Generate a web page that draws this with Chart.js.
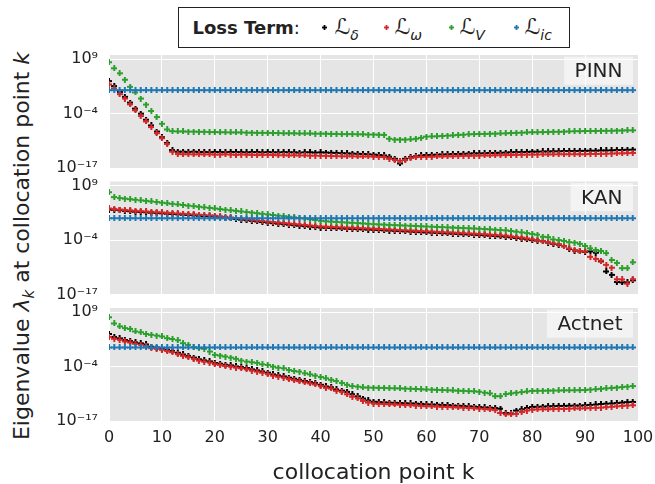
<!DOCTYPE html>
<html>
<head>
<meta charset="utf-8">
<script src="https://cdn.jsdelivr.net/npm/chart.js@4.4.1/dist/chart.umd.min.js"></script>
<style>
  html, body { margin: 0; padding: 0; background: #fff; }
  body { width: 655px; height: 484px; position: relative; overflow: hidden;
         font-family: 'DejaVu Sans', sans-serif; color: #222; }
  canvas.panel { position: absolute; left: 0; }
  #legend { position: absolute; left: 178px; top: 7px; width: 392px; height: 41px;
            box-sizing: border-box; border: 1.5px solid #222; background: #fff; }
  #legend .li { position: absolute; top: 0; height: 38px; line-height: 38px;
                font-size: 22px; white-space: nowrap; }
  #legend .li sub { font-size: 14px; font-style: italic; vertical-align: -6px; }
  #legend canvas { position: absolute; }
  #ytitle { position: absolute; left: 25px; top: 246px; font-size: 22px; line-height: 26px;
            white-space: nowrap; transform: translate(-50%, -50%) rotate(-90deg); }
  #ytitle sub { font-size: 15px; vertical-align: -5px; font-style: italic; }
</style>
</head>
<body>
<div id="legend">
  <span class="li" style="left:13.5px"><span style="font-size:18px"><b>Loss Term</b>:</span></span>
  <span class="li" style="left:155.5px">ℒ<sub>δ</sub></span>
  <span class="li" style="left:215.5px">ℒ<sub>ω</sub></span>
  <span class="li" style="left:280.5px">ℒ<sub>V</sub></span>
  <span class="li" style="left:345.5px">ℒ<sub>ic</sub></span>
</div>
<div id="ytitle">Eigenvalue <i>λ</i><sub>k</sub> at collocation point <i>k</i></div>
<canvas id="pinn" class="panel" width="655" height="137" style="top:43px"></canvas>
<canvas id="kan" class="panel" width="655" height="138" style="top:169px"></canvas>
<canvas id="actnet" class="panel" width="655" height="188" style="top:296px"></canvas>
<script>
// collocation points k = 0..99
const points = [...Array(100).keys()];

const yTickValues = [1e-17, 1e-4, 1e9];
const yTickLabels = ['10⁻¹⁷', '10⁻⁴', '10⁹'];

const termNames = ['δ', 'ω', 'V', 'ic'];
const termColors = ['#000000', '#d62728', '#2ca02c', '#1f77b4'];

// all series are log10(eigenvalue)

// ---- PINN ----
const pinnDelta = [
  3.77, 2.57, 1.2, 0.0, -1.37, -2.81, -4.02, -5.47, -6.83, -8.28,
  -9.64, -11.0, -12.7, -13.1, -13.1, -13.15, -13.1, -13.15, -13.15, -13.2,
  -13.15, -13.2, -13.2, -13.15, -13.2, -13.2, -13.25, -13.2, -13.2, -13.25,
  -13.2, -13.25, -13.25, -13.2, -13.25, -13.25, -13.3, -13.25, -13.25, -13.3,
  -13.26, -13.3, -13.35, -13.4, -13.45, -13.5, -13.55, -13.6, -13.65, -13.7,
  -13.8, -13.9, -14.0, -14.3, -14.8, -15.9, -14.8, -14.4, -14.2, -14.0,
  -13.9, -13.85, -13.8, -13.75, -13.7, -13.65, -13.65, -13.6, -13.55, -13.5,
  -13.5, -13.45, -13.4, -13.4, -13.35, -13.3, -13.25, -13.2, -13.2, -13.15,
  -13.1, -13.1, -13.05, -13.05, -13.0, -13.0, -12.95, -12.95, -12.95, -12.9,
  -12.9, -12.85, -12.85, -12.8, -12.8, -12.75, -12.7, -12.7, -12.65, -12.6
];
const pinnOmega = [
  2.97, 2.0, 0.64, -0.4, -1.77, -3.2, -4.58, -5.87, -7.23, -8.68,
  -9.88, -11.25, -13.1, -13.66, -13.7, -13.7, -13.75, -13.7, -13.75, -13.75,
  -13.8, -13.8, -13.75, -13.8, -13.85, -13.8, -13.85, -13.85, -13.9, -13.9,
  -13.85, -13.9, -13.95, -13.95, -14.0, -13.95, -14.0, -14.0, -14.05, -14.05,
  -14.1, -14.1, -14.15, -14.15, -14.2, -14.2, -14.2, -14.25, -14.25, -14.25,
  -14.3, -14.35, -14.4, -14.8, -15.1, -15.27, -15.1, -14.6, -14.4, -14.35,
  -14.3, -14.3, -14.25, -14.25, -14.2, -14.2, -14.15, -14.1, -14.1, -14.05,
  -14.05, -14.0, -14.0, -13.95, -13.95, -13.9, -13.9, -13.85, -13.85, -13.8,
  -13.8, -13.8, -13.75, -13.75, -13.75, -13.7, -13.7, -13.7, -13.7, -13.7,
  -13.7, -13.65, -13.65, -13.6, -13.6, -13.55, -13.5, -13.5, -13.45, -13.4
];
const pinnV = [
  8.27, 6.83, 5.63, 4.1, 2.4, 1.05, -0.4, -1.84, -3.38, -4.82,
  -6.43, -7.8, -8.2, -8.25, -8.25, -8.3, -8.3, -8.35, -8.35, -8.4,
  -8.4, -8.45, -8.45, -8.5, -8.5, -8.5, -8.55, -8.55, -8.6, -8.6,
  -8.6, -8.65, -8.65, -8.7, -8.7, -8.7, -8.75, -8.75, -8.75, -8.8,
  -8.8, -8.8, -8.85, -8.85, -8.9, -8.9, -8.9, -8.95, -8.95, -9.0,
  -9.0, -9.05, -9.1, -10.0, -10.2, -10.2, -10.2, -10.15, -10.0, -9.8,
  -9.5, -9.45, -9.4, -9.35, -9.25, -9.2, -9.1, -9.05, -8.95, -8.9,
  -8.85, -8.85, -8.8, -8.8, -8.75, -8.7, -8.65, -8.6, -8.55, -8.5,
  -8.45, -8.45, -8.4, -8.4, -8.35, -8.35, -8.3, -8.25, -8.2, -8.2,
  -8.15, -8.15, -8.15, -8.1, -8.1, -8.1, -8.05, -8.05, -8.0, -8.0
];
const pinnIc = [
  1.6, 1.6, 1.6, 1.6, 1.6, 1.6, 1.6, 1.6, 1.6, 1.6,
  1.6, 1.6, 1.6, 1.6, 1.6, 1.6, 1.6, 1.6, 1.6, 1.6,
  1.6, 1.6, 1.6, 1.6, 1.6, 1.6, 1.6, 1.6, 1.6, 1.6,
  1.6, 1.6, 1.6, 1.6, 1.6, 1.6, 1.6, 1.6, 1.6, 1.6,
  1.6, 1.6, 1.6, 1.6, 1.6, 1.6, 1.6, 1.6, 1.6, 1.6,
  1.6, 1.6, 1.6, 1.6, 1.6, 1.6, 1.6, 1.6, 1.6, 1.6,
  1.6, 1.6, 1.6, 1.6, 1.6, 1.6, 1.6, 1.6, 1.6, 1.6,
  1.6, 1.6, 1.6, 1.6, 1.6, 1.6, 1.6, 1.6, 1.6, 1.6,
  1.6, 1.6, 1.6, 1.6, 1.6, 1.6, 1.6, 1.6, 1.6, 1.6,
  1.6, 1.6, 1.6, 1.6, 1.6, 1.6, 1.6, 1.6, 1.6, 1.6
];

// ---- KAN ----
const kanDelta = [
  3.3, 3.25, 3.15, 3.0, 2.9, 2.8, 2.72, 2.64, 2.55, 2.47,
  2.4, 2.32, 2.24, 2.16, 2.08, 2.0, 1.92, 1.84, 1.76, 1.68,
  1.6, 1.45, 1.31, 1.17, 1.03, 0.89, 0.75, 0.6, 0.46, 0.32,
  0.18, 0.05, -0.07, -0.19, -0.31, -0.43, -0.55, -0.66, -0.78, -0.9,
  -1.0, -1.05, -1.11, -1.16, -1.22, -1.27, -1.32, -1.38, -1.43, -1.49,
  -1.54, -1.6, -1.66, -1.72, -1.79, -1.85, -1.91, -1.97, -2.03, -2.1,
  -2.16, -2.22, -2.28, -2.35, -2.41, -2.47, -2.53, -2.6, -2.66, -2.72,
  -2.79, -2.86, -2.94, -3.02, -3.11, -3.21, -3.35, -3.5, -3.65, -3.85,
  -4.0, -4.1, -4.3, -4.6, -4.9, -5.1, -5.5, -6.1, -6.5, -6.7,
  -6.8, -6.7, -7.0, -9.1, -11.5, -12.3, -14.0, -14.1, -14.1, -13.6
];
const kanOmega = [
  3.55, 3.4, 3.3, 3.2, 3.1, 3.0, 2.92, 2.84, 2.76, 2.68,
  2.61, 2.53, 2.45, 2.38, 2.3, 2.22, 2.14, 2.06, 1.99, 1.91,
  1.83, 1.69, 1.55, 1.41, 1.27, 1.13, 0.99, 0.85, 0.71, 0.57,
  0.43, 0.31, 0.2, 0.08, -0.04, -0.15, -0.27, -0.39, -0.5, -0.62,
  -0.74, -0.79, -0.85, -0.9, -0.96, -1.01, -1.06, -1.12, -1.17, -1.23,
  -1.28, -1.34, -1.4, -1.46, -1.53, -1.59, -1.65, -1.71, -1.77, -1.84,
  -1.9, -1.96, -2.02, -2.09, -2.15, -2.21, -2.27, -2.34, -2.4, -2.46,
  -2.53, -2.6, -2.68, -2.76, -2.85, -2.95, -3.1, -3.25, -3.4, -3.6,
  -3.8, -4.0, -4.2, -4.5, -4.8, -5.0, -5.4, -6.0, -6.4, -6.6,
  -6.7, -8.0, -8.5, -8.9, -9.9, -10.6, -13.35, -13.4, -14.4, -13.35
];
const kanV = [
  7.44, 6.27, 6.04, 5.9, 5.78, 5.65, 5.5, 5.38, 5.24, 5.1,
  4.95, 4.81, 4.67, 4.53, 4.39, 4.25, 4.11, 3.97, 3.83, 3.69,
  3.55, 3.41, 3.27, 3.13, 2.99, 2.85, 2.71, 2.57, 2.43, 2.29,
  2.15, 2.0, 1.86, 1.72, 1.58, 1.44, 1.3, 1.15, 0.99, 0.83,
  0.6, 0.5, 0.42, 0.35, 0.27, 0.2, 0.13, 0.06, -0.02, -0.1,
  -0.19, -0.25, -0.3, -0.36, -0.41, -0.47, -0.52, -0.58, -0.63, -0.69,
  -0.74, -0.8, -0.85, -0.9, -0.96, -1.01, -1.06, -1.12, -1.17, -1.22,
  -1.28, -1.35, -1.43, -1.51, -1.59, -1.67, -1.82, -1.98, -2.15, -2.33,
  -2.5, -2.7, -3.2, -3.3, -3.85, -4.0, -4.2, -4.5, -4.6, -4.9,
  -5.4, -5.95, -6.35, -6.6, -7.1, -8.75, -9.45, -10.7, -10.7, -9.3
];
const kanIc = [
  1.22, 1.22, 1.22, 1.22, 1.22, 1.22, 1.22, 1.22, 1.22, 1.22,
  1.22, 1.22, 1.22, 1.22, 1.22, 1.22, 1.22, 1.22, 1.22, 1.22,
  1.22, 1.22, 1.22, 1.22, 1.22, 1.22, 1.22, 1.22, 1.22, 1.22,
  1.22, 1.22, 1.22, 1.22, 1.22, 1.22, 1.22, 1.22, 1.22, 1.22,
  1.22, 1.22, 1.22, 1.22, 1.22, 1.22, 1.22, 1.22, 1.22, 1.22,
  1.22, 1.22, 1.22, 1.22, 1.22, 1.22, 1.22, 1.22, 1.22, 1.22,
  1.22, 1.22, 1.22, 1.22, 1.22, 1.22, 1.22, 1.22, 1.22, 1.22,
  1.22, 1.22, 1.22, 1.22, 1.22, 1.22, 1.22, 1.22, 1.22, 1.22,
  1.22, 1.22, 1.22, 1.22, 1.22, 1.22, 1.22, 1.22, 1.22, 1.22,
  1.22, 1.22, 1.22, 1.22, 1.22, 1.22, 1.22, 1.22, 1.22, 1.22
];

// ---- Actnet ----
const actDelta = [
  3.79, 3.1, 2.75, 2.35, 2.1, 1.8, 1.55, 1.3, 0.75, 0.55,
  0.3, 0.05, -0.25, -0.7, -1.1, -1.45, -1.85, -2.25, -2.5, -2.75,
  -3.15, -3.3, -3.55, -3.7, -3.95, -4.1, -4.35, -4.65, -4.9, -5.15,
  -5.45, -5.85, -6.1, -6.35, -6.65, -6.9, -7.15, -7.45, -7.7, -7.95,
  -8.35, -8.75, -8.95, -9.45, -9.75, -10.03, -10.6, -11.1, -11.63, -12.1,
  -12.4, -12.5, -12.55, -12.6, -12.65, -12.7, -12.75, -12.8, -12.85, -12.9,
  -13.0, -13.05, -13.1, -13.15, -13.2, -13.3, -13.35, -13.4, -13.5, -13.55,
  -13.65, -13.75, -13.8, -13.9, -14.05, -15.1, -15.2, -14.5, -14.2, -13.9,
  -13.65, -13.6, -13.55, -13.5, -13.45, -13.4, -13.4, -13.35, -13.3, -13.3,
  -13.24, -13.15, -13.05, -12.95, -12.85, -12.8, -12.7, -12.6, -12.5, -12.44
];
const actOmega = [
  3.06, 2.66, 2.42, 2.02, 1.78, 1.46, 1.22, 0.98, 0.41, 0.25,
  0.01, -0.23, -0.55, -1.03, -1.43, -1.75, -2.16, -2.56, -2.8, -3.04,
  -3.44, -3.6, -3.84, -4.0, -4.24, -4.4, -4.64, -4.96, -5.2, -5.45,
  -5.77, -6.17, -6.41, -6.65, -6.98, -7.22, -7.46, -7.78, -8.02, -8.26,
  -8.66, -9.06, -9.22, -9.78, -10.03, -10.6, -11.2, -11.6, -12.2, -12.6,
  -12.83, -12.9, -12.95, -13.0, -13.05, -13.1, -13.2, -13.25, -13.3, -13.4,
  -13.48, -13.52, -13.56, -13.6, -13.65, -13.7, -13.75, -13.8, -13.9, -13.95,
  -14.04, -14.15, -14.25, -14.4, -15.1, -15.4, -15.4, -15.3, -14.85, -14.5,
  -14.3, -14.25, -14.2, -14.2, -14.15, -14.1, -14.1, -14.05, -14.0, -14.0,
  -13.96, -13.9, -13.85, -13.8, -13.7, -13.6, -13.5, -13.4, -13.3, -13.24
];
const actV = [
  7.8, 6.3, 5.6, 5.2, 5.0, 4.4, 4.2, 3.8, 3.6, 3.4,
  3.2, 2.8, 2.6, 2.3, 1.6, 1.2, 0.65, 0.4, 0.25, -0.4,
  -1.2, -1.35, -1.6, -1.85, -2.15, -2.55, -2.8, -2.95, -3.1, -3.45,
  -3.6, -4.0, -4.25, -4.4, -4.8, -5.05, -5.2, -5.6, -5.85, -6.15,
  -6.5, -6.8, -7.15, -7.45, -7.9, -8.35, -8.66, -8.8, -8.98, -9.0,
  -9.05, -9.08, -9.1, -9.15, -9.18, -9.2, -9.25, -9.3, -9.35, -9.4,
  -9.47, -9.5, -9.55, -9.6, -9.65, -9.7, -9.75, -9.8, -9.85, -9.9,
  -10.0, -10.25, -10.4, -11.07, -11.07, -10.55, -10.4, -10.25, -10.1, -9.95,
  -9.8, -9.78, -9.76, -9.74, -9.72, -9.7, -9.68, -9.66, -9.64, -9.62,
  -9.6, -9.5, -9.4, -9.3, -9.2, -9.1, -9.0, -8.9, -8.8, -8.66
];
const actIc = [
  0.57, 0.57, 0.57, 0.57, 0.57, 0.57, 0.57, 0.57, 0.57, 0.57,
  0.57, 0.57, 0.57, 0.57, 0.57, 0.57, 0.57, 0.57, 0.57, 0.57,
  0.57, 0.57, 0.57, 0.57, 0.57, 0.57, 0.57, 0.57, 0.57, 0.57,
  0.57, 0.57, 0.57, 0.57, 0.57, 0.57, 0.57, 0.57, 0.57, 0.57,
  0.57, 0.57, 0.57, 0.57, 0.57, 0.57, 0.57, 0.57, 0.57, 0.57,
  0.57, 0.57, 0.57, 0.57, 0.57, 0.57, 0.57, 0.57, 0.57, 0.57,
  0.57, 0.57, 0.57, 0.57, 0.57, 0.57, 0.57, 0.57, 0.57, 0.57,
  0.57, 0.57, 0.57, 0.57, 0.57, 0.57, 0.57, 0.57, 0.57, 0.57,
  0.57, 0.57, 0.57, 0.57, 0.57, 0.57, 0.57, 0.57, 0.57, 0.57,
  0.57, 0.57, 0.57, 0.57, 0.57, 0.57, 0.57, 0.57, 0.57, 0.57
];

Chart.defaults.font.family = "'DejaVu Sans', sans-serif";
Chart.defaults.color = '#222';

// filled "plus" marker like matplotlib's 'P'
function plusMarker(color, size, arm) {
  const c = document.createElement('canvas');
  c.width = size;
  c.height = size;
  const g = c.getContext('2d');
  g.fillStyle = color;
  const o = (size - arm) / 2;
  g.fillRect(o, 0, arm, size);
  g.fillRect(0, o, size, arm);
  return c;
}

const markers = termColors.map(c => plusMarker(c, 6, 2));

// legend markers
[325, 387, 452, 517].forEach((cx, i) => {
  const m = plusMarker(termColors[i], 5, 1.8);
  m.style.left = (cx - 179.5 - 2.5) + 'px';
  m.style.top = (28.3 - 8.5 - 2.5) + 'px';
  document.getElementById('legend').appendChild(m);
});

// gray panel + boxed model name in the upper right
const panelDecor = {
  id: 'panelDecor',
  beforeDraw(chart) {
    const { ctx, chartArea: a } = chart;
    ctx.save();
    ctx.fillStyle = '#e5e5e5';
    ctx.fillRect(a.left, a.top, a.width, a.height);
    ctx.restore();
  },
  afterDatasetsDraw(chart, args, opts) {
    const { ctx, chartArea: a } = chart;
    ctx.save();
    ctx.font = "20px 'DejaVu Sans'";
    const w = ctx.measureText(opts.text).width + 21;
    const h = 28;
    const x = a.right - 5 - w;
    const y = a.top + 1.7;
    ctx.fillStyle = 'rgba(255,255,255,0.55)';
    ctx.fillRect(x, y, w, h);
    ctx.fillStyle = '#222';
    ctx.textAlign = 'center';
    ctx.textBaseline = 'middle';
    ctx.fillText(opts.text, x + w / 2, y + 15.5);
    ctx.restore();
  }
};

function toXY(logs) {
  return logs.map((v, i) => ({ x: points[i], y: Math.pow(10, v) }));
}

function buildPanel(id, name, series, pad, bottomAxis) {
  const order = [4, 3, 2, 1];
  const datasets = series.map((s, i) => ({
    label: 'ℒ' + termNames[i],
    data: toXY(s),
    pointStyle: markers[i],
    pointRadius: 3,
    order: order[i]
  }));
  return new Chart(document.getElementById(id), {
    type: 'scatter',
    data: { datasets },
    options: {
      responsive: false,
      animation: false,
      events: [],
      layout: { padding: { left: 0, right: 17, top: pad.top, bottom: pad.bottom } },
      plugins: {
        legend: { display: false },
        tooltip: { enabled: false },
        panelDecor: { text: name }
      },
      scales: {
        x: {
          type: 'linear',
          min: 0,
          max: 100,
          ticks: { stepSize: 10, display: bottomAxis, padding: 7, font: { size: 16 }, color: '#222' },
          grid: { color: '#ffffff', lineWidth: 1, drawTicks: false },
          border: { display: false },
          title: {
            display: bottomAxis,
            text: 'collocation point k',
            font: { size: 22, lineHeight: 0.95 },
            color: '#222',
            padding: { top: 0, bottom: 0 }
          },
          afterFit: a => {
            a.height = bottomAxis ? 63 : 0;
            a.paddingLeft = 0;
            a.paddingRight = 0;
          }
        },
        y: {
          type: 'logarithmic',
          min: 1e-17,
          max: 1e10,
          afterBuildTicks: a => { a.ticks = yTickValues.map(v => ({ value: v })); },
          ticks: {
            autoSkip: false,
            padding: 11,
            font: { size: 16 },
            color: '#222',
            callback: (value) => {
              const i = yTickValues.findIndex(t => Math.abs(Math.log10(t) - Math.log10(value)) < 1e-6);
              return i >= 0 ? yTickLabels[i] : '';
            }
          },
          grid: { color: '#ffffff', lineWidth: 1, drawTicks: false },
          border: { display: false },
          afterFit: a => {
            a.width = 109;
            a.paddingTop = 0;
            a.paddingBottom = 0;
          }
        }
      }
    },
    plugins: [panelDecor]
  });
}

buildPanel('pinn', 'PINN', [pinnDelta, pinnOmega, pinnV, pinnIc], { top: 12, bottom: 12 }, false);
buildPanel('kan', 'KAN', [kanDelta, kanOmega, kanV, kanIc], { top: 12.5, bottom: 12.5 }, false);
buildPanel('actnet', 'Actnet', [actDelta, actOmega, actV, actIc], { top: 12, bottom: 0 }, true);
</script>
</body>
</html>
